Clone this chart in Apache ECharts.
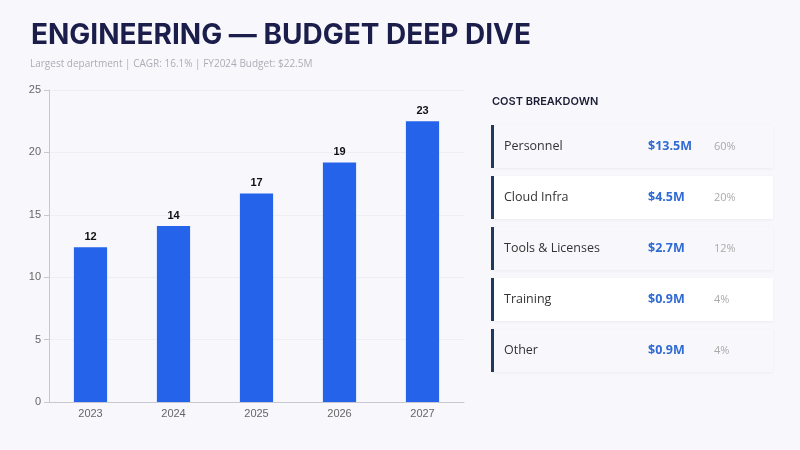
<!DOCTYPE html>
<html><head><meta charset="utf-8">
<script src="https://cdn.jsdelivr.net/npm/echarts@6/dist/echarts.min.js"></script>
<style>html,body{margin:0;padding:0;background:#f8f8fc;}#c{width:800px;height:450px;}</style>
</head><body><div id="c"></div>
<script>
const titleText = 'ENGINEERING — BUDGET DEEP DIVE';
const subtitleText = 'Largest department | CAGR: 16.1% | FY2024 Budget: $22.5M';
const years = ['2023', '2024', '2025', '2026', '2027'];
const budget = [12.4, 14.1, 16.7, 19.2, 22.5];
const breakdownLabels = ['Personnel', 'Cloud Infra', 'Tools & Licenses', 'Training', 'Other'];
const breakdownValues = ['$13.5M', '$4.5M', '$2.7M', '$0.9M', '$0.9M'];
const breakdownPct = ['60%', '20%', '12%', '4%', '4%'];

const chart = echarts.init(document.getElementById('c'));
const graphics = [
  {type:'text', left:31, top:22, style:{text:titleText, font:'bold 28px Inter', fill:'#1b1e4b'}},
  {type:'text', left:30, top:59, style:{text:subtitleText, font:'10px "Open Sans"', fill:'#acacb6'}},
  {type:'text', left:492, top:96, style:{text:'COST BREAKDOWN', font:'600 11px Inter', fill:'#1a1d33'}}
];
breakdownLabels.forEach((lab, i) => {
  const top = 125 + i * 51;
  const white = i % 2 === 1;
  graphics.push({type:'rect', shape:{x:493, y:top, width:280, height:43},
    style:{fill: white ? '#ffffff' : '#f8f8fc', shadowBlur:3, shadowColor:'rgba(0,0,0,0.05)', shadowOffsetY:1}});
  graphics.push({type:'rect', shape:{x:491, y:top, width:3, height:43}, style:{fill:'#1e3a5f'}});
  graphics.push({type:'text', x:504, y:top+21.5, style:{text:lab, font:'12.5px "Open Sans"', fill:'#333333', verticalAlign:'middle'}});
  graphics.push({type:'text', x:648, y:top+21.5, style:{text:breakdownValues[i], font:'bold 12.5px "Open Sans"', fill:'#2f6bd3', verticalAlign:'middle'}});
  graphics.push({type:'text', x:714, y:top+21.5, style:{text:breakdownPct[i], font:'11px "Open Sans"', fill:'#aaaaaa', verticalAlign:'middle'}});
});

chart.setOption({
  backgroundColor:'#f8f8fc',
  animation:false,
  graphic: graphics,
  grid:{left:49, right:336, top:90, bottom:48},
  xAxis:{type:'category', data:years,
    axisLine:{lineStyle:{color:'#c8c8d0'}}, axisTick:{lineStyle:{color:'#c8c8d0'}},
    axisLabel:{color:'#666', fontSize:11, margin:6, fontFamily:'Liberation Sans'}},
  yAxis:{type:'value', min:0, max:25, interval:5,
    axisLine:{show:true, lineStyle:{color:'#c8c8d0'}}, axisTick:{show:true, lineStyle:{color:'#c8c8d0'}},
    axisLabel:{color:'#666', fontSize:11, fontFamily:'Liberation Sans'},
    splitLine:{lineStyle:{color:'#eeeef4'}}},
  series:[{type:'bar', data:budget, barWidth:'40%',
    itemStyle:{color:'#2563eb'},
    label:{show:true, position:'top', color:'#111', fontWeight:'bold', fontSize:11, fontFamily:'Liberation Sans',
      formatter:p => Math.round(p.value)}}]
});
</script></body></html>
